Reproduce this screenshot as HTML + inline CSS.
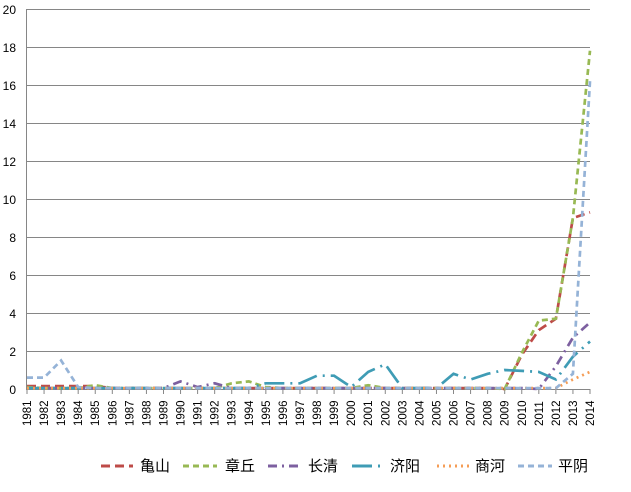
<!DOCTYPE html><html><head><meta charset="utf-8"><style>body{margin:0;background:#fff}svg{display:block}text{font-family:"Liberation Sans","Noto Sans CJK SC",sans-serif}</style></head><body>
<svg id="s" width="631" height="492" xmlns="http://www.w3.org/2000/svg">
<g stroke="#868686" stroke-width="1">
<line x1="27" y1="9.5" x2="590" y2="9.5"/><line x1="27" y1="47.5" x2="590" y2="47.5"/><line x1="27" y1="85.5" x2="590" y2="85.5"/><line x1="27" y1="123.5" x2="590" y2="123.5"/><line x1="27" y1="161.5" x2="590" y2="161.5"/><line x1="27" y1="199.5" x2="590" y2="199.5"/><line x1="27" y1="237.5" x2="590" y2="237.5"/><line x1="27" y1="275.5" x2="590" y2="275.5"/><line x1="27" y1="313.5" x2="590" y2="313.5"/><line x1="27" y1="351.5" x2="590" y2="351.5"/><line x1="27" y1="389.5" x2="590" y2="389.5"/><line x1="26.5" y1="9" x2="26.5" y2="390"/>
</g>
<g font-size="12" text-anchor="end" fill="#000">
<text x="16" y="14">20</text><text x="16" y="52">18</text><text x="16" y="90">16</text><text x="16" y="128">14</text><text x="16" y="166">12</text><text x="16" y="204">10</text><text x="16" y="242">8</text><text x="16" y="280">6</text><text x="16" y="318">4</text><text x="16" y="356">2</text><text x="16" y="394">0</text>
</g>
<g id="xl" font-size="11.5" fill="#000"></g>
<g id="ticks" stroke="#868686"></g>
<g id="lines" fill="none" stroke-width="2.7"></g>
<g font-size="15" fill="#000">
<line x1="101" y1="466" x2="133" y2="466" stroke="#BE4B48" stroke-width="3" stroke-dasharray="9,5"/><text x="140" y="471">亀山</text>
<line x1="183" y1="466" x2="217" y2="466" stroke="#98B954" stroke-width="3" stroke-dasharray="6,4"/><text x="225" y="471">章丘</text>
<line x1="268" y1="466" x2="302" y2="466" stroke="#7D60A0" stroke-width="3" stroke-dasharray="9,5,2,5"/><text x="308" y="471">长清</text>
<line x1="352" y1="466" x2="386" y2="466" stroke="#3F9CB5" stroke-width="3" stroke-dasharray="20,6,2,6"/><text x="390" y="471">济阳</text>
<line x1="437" y1="466" x2="470" y2="466" stroke="#F59D56" stroke-width="3" stroke-dasharray="2,4"/><text x="475" y="471">商河</text>
<line x1="518" y1="466" x2="552" y2="466" stroke="#95B3D7" stroke-width="3" stroke-dasharray="6,4"/><text x="558" y="471">平阴</text>
</g>
</svg>
<script>
var N=34,x0=27,dx=(590-27)/33;
function X(i){return x0+i*dx}function Y(v){return 389-v*19}
var xl=document.getElementById('xl'),tk=document.getElementById('ticks'),ns='http://www.w3.org/2000/svg';
for(var i=0;i<N;i++){var t=document.createElementNS(ns,'text');var x=X(i);t.setAttribute('transform','translate('+(x+4)+',426) rotate(-90)');t.textContent=1981+i;xl.appendChild(t);
var l=document.createElementNS(ns,'line');l.setAttribute('x1',x);l.setAttribute('x2',x);l.setAttribute('y1',389);l.setAttribute('y2',394);tk.appendChild(l);}
function z(){var a=[];for(var i=0;i<N;i++)a.push(0.05);return a}
function set(a,o){for(var k in o)a[k-1981]=o[k];return a}
var S=[
[set(z(),{1981:0.15,1982:0.15,1983:0.15,1984:0.15,1985:0.15,2009:0,2010:1.8,2011:3.1,2012:3.7,2013:9.0,2014:9.3}),'#BE4B48','9,5'],
[set(z(),{1981:0.1,1985:0.2,1993:0.3,1994:0.4,1995:0.1,2001:0.2,2009:0,2010:1.9,2011:3.6,2012:3.7,2013:9.0,2014:17.8}),'#98B954','6,4'],
[set(z(),{1989:0.05,1990:0.4,1991:0.1,1992:0.3,2011:0,2012:1.2,2013:2.7,2014:3.5}),'#7D60A0','9,5,2,5'],
[set(z(),{1995:0.3,1996:0.3,1997:0.3,1998:0.7,1999:0.7,2000:0.1,2001:0.9,2002:1.3,2003:0.05,2006:0.8,2007:0.5,2008:0.8,2009:1.0,2010:0.95,2011:0.9,2012:0.5,2013:1.7,2014:2.5}),'#3F9CB5','20,6,2,6'],
[set(z(),{2012:0.05,2013:0.5,2014:0.9}),'#F59D56','2,4'],
[set(z(),{1981:0.6,1982:0.6,1983:1.5,1984:0.1,2012:0.05,2013:0.8,2014:16.2}),'#95B3D7','6,4']];
var g=document.getElementById('lines');
S.forEach(function(s){var p=document.createElementNS(ns,'polyline');p.setAttribute('points',s[0].map(function(v,i){return X(i).toFixed(1)+','+Y(v).toFixed(1)}).join(' '));p.setAttribute('stroke',s[1]);p.setAttribute('stroke-dasharray',s[2]);g.appendChild(p)});
</script>
</body></html>
